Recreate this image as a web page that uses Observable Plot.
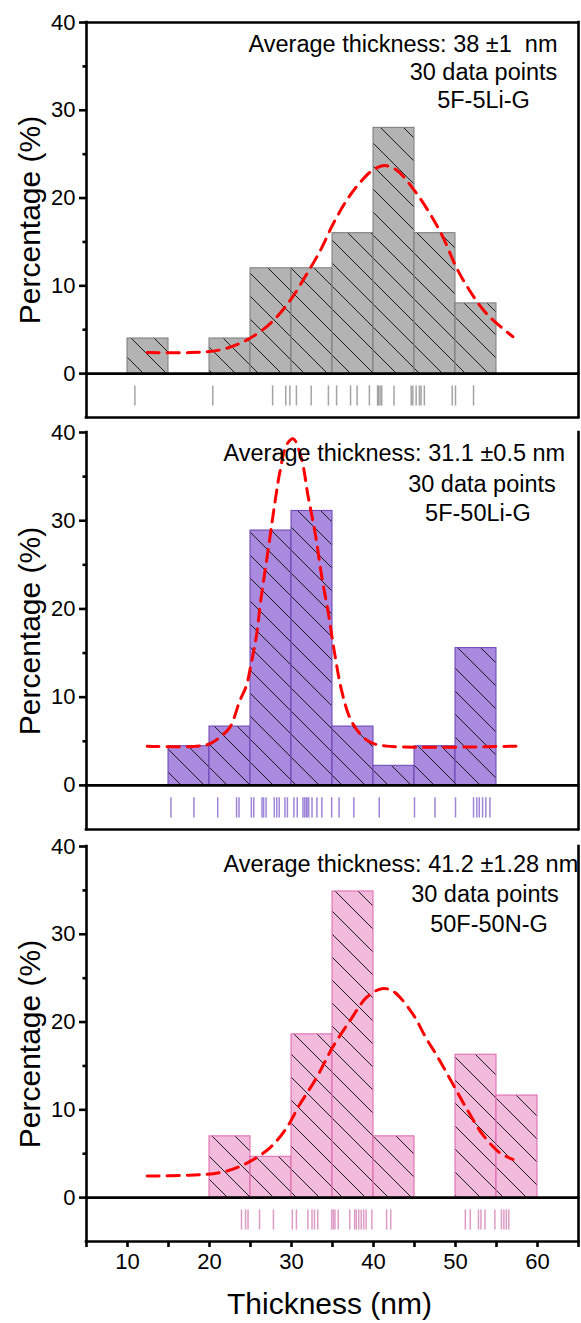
<!DOCTYPE html>
<html>
<head>
<meta charset="utf-8">
<script src="https://cdn.jsdelivr.net/npm/d3@7"></script>
<script src="https://cdn.jsdelivr.net/npm/@observablehq/plot@0.6"></script>
<style>
  body { margin: 0; background: #fff; }
  #chart svg { display: block; }
  #chart text { white-space: pre; }
</style>
</head>
<body>
<div id="chart"></div>
<script>
// Histogram bins (nm): left edges, each 5 nm wide
const binStarts = [10, 15, 20, 25, 30, 35, 40, 45, 50, 55];
const binWidth = 5;

// Percentage per bin
const pct5Li = [4, 0, 4, 12, 12, 16, 28, 16, 8, 0];
const pct50Li = [0, 4.44, 6.67, 28.89, 31.11, 6.67, 2.22, 4.44, 15.56, 0];
const pct50N = [0, 0, 6.98, 4.65, 18.6, 34.88, 6.98, 0, 16.28, 11.63];

// Individual thickness measurements (nm), shown as rug ticks
const rug5Li = [10.9, 20.4, 27.7, 29.3, 29.8, 30.6, 32.4, 34.5, 35.5, 37.2, 38.0, 39.5, 40.5, 40.6, 40.8,
  41.0, 42.5, 44.6, 44.8, 45.2, 45.6, 45.8, 46.2, 49.6, 50.0, 52.2];
const rug50Li = [15.3, 18.1, 21.0, 23.3, 23.6, 25.1, 25.4, 26.4, 26.6, 26.9, 27.9, 28.2, 28.5, 29.2, 29.5,
  30.3, 30.7, 31.4, 31.6, 31.8, 31.9, 32.1, 32.5, 33.1, 33.7, 34.9, 35.8, 37.6, 40.7, 45.0, 47.5, 50.0,
  52.2, 52.6, 52.9, 53.3, 53.7, 54.2];
const rug50N = [23.9, 24.4, 24.7, 26.1, 27.8, 30.1, 30.6, 32.0, 32.5, 32.8, 33.2, 34.9, 35.1, 35.3, 35.7,
  37.1, 37.7, 37.9, 38.2, 38.5, 38.8, 39.1, 39.8, 41.6, 42.1, 51.2, 51.8, 52.8, 53.1, 53.6, 54.8, 55.6,
  55.9, 56.2, 56.5];

// Fitted distribution curves (thickness, percentage)
const fit5LiX = [12.4, 17.6, 21.3, 24.5, 27.4, 29.8, 31.9, 33.5, 35.1, 36.7, 38.2, 39.8, 41.3, 42.8, 44.8, 46.9, 48.5, 50.1, 51.7, 53.8, 57.0];
const fit5LiY = [2.4, 2.4, 2.7, 3.8, 5.7, 8.3, 11.4, 14.0, 17.1, 19.7, 21.6, 23.1, 23.7, 23.2, 21.1, 18.2, 15.5, 12.1, 9.5, 6.8, 4.2];
const fit50LiX = [12.4, 19.7, 21.3, 22.5, 23.7, 24.5, 25.0, 25.4, 25.8, 26.2, 27.2, 28.0, 28.6, 29.4, 30.2, 31.2, 32.0, 32.9, 33.7, 34.5, 35.2, 36.1, 37.1, 38.3, 39.6, 41.6, 57.4];
const fit50LiY = [4.45, 4.6, 5.5, 6.6, 9.6, 11.3, 13.4, 15.3, 17.4, 20.6, 27.0, 32.2, 35.6, 38.6, 39.3, 37.1, 32.9, 28.5, 23.6, 19.5, 15.3, 10.8, 7.7, 5.9, 4.9, 4.45, 4.45];
const fit50NX = [12.4, 17.6, 21.3, 24.5, 27.4, 29.4, 31.0, 33.05, 35.0, 37.1, 39.15, 41.0, 42.4, 44.8, 46.4, 47.9, 49.7, 51.5, 53.3, 55.4, 57.0];
const fit50NY = [2.45, 2.55, 2.85, 3.9, 5.7, 7.95, 10.6, 13.65, 17.1, 20.1, 22.8, 23.8, 23.5, 20.9, 18.2, 15.9, 12.9, 9.9, 7.2, 5.1, 4.35];

// Annotation lines
const labels5Li = ["Average thickness: 38 ±1  nm", "30 data points", "5F-5Li-G"];
const labels50Li = ["Average thickness: 31.1 ±0.5 nm", "30 data points", "5F-50Li-G"];
const labels50N = ["Average thickness: 41.2 ±1.28 nm", "30 data points", "50F-50N-G"];

const xTicks = [5, 10, 15, 20, 25, 30, 35, 40, 45, 50, 55, 60, 65];
const yMajor = [0, 10, 20, 30, 40];
const yMinor = [5, 15, 25, 35];

const FONT = "'Liberation Sans', Arial, Helvetica, sans-serif";

function addHatch(svg, id) {
  const defs = d3.select(svg).insert("defs", ":first-child");
  const p = defs.append("pattern")
    .attr("id", id)
    .attr("patternUnits", "userSpaceOnUse")
    .attr("width", 23)
    .attr("height", 23);
  p.append("path")
    .attr("d", "M-2,-2L25,25M-2,21L2,25M21,-2L25,2")
    .attr("stroke", "#1a1a1a")
    .attr("stroke-width", 1)
    .attr("fill", "none");
}

function panel(cfg) {
  const bins = binStarts.map((x0, i) => ({x0, x1: x0 + binWidth, pct: cfg.pct[i]})).filter(d => d.pct > 0);
  const hatchId = "hatch-" + cfg.key;
  const frame = {stroke: "black", strokeWidth: 2.6, strokeLinecap: "square"};
  const marks = [
    Plot.rect(bins, {x1: "x0", x2: "x1", y1: 0, y2: "pct", fill: cfg.fill, stroke: cfg.edge, strokeWidth: 1}),
    Plot.rect(bins, {x1: "x0", x2: "x1", y1: 0, y2: "pct", fill: `url(#${hatchId})`, inset: 0.5}),
    Plot.line(cfg.fitX, {x: d => d, y: (d, i) => cfg.fitY[i], stroke: "#ff0000", strokeWidth: 3,
      strokeDasharray: "12,8", curve: "catmull-rom"}),
    Plot.ruleX(cfg.rug, {x: d => d, y1: -1.4, y2: -3.7, stroke: cfg.rugColor, strokeWidth: 1.5, strokeOpacity: cfg.rugOpacity}),
    Plot.ruleY([0], frame),
    Plot.ruleY([-5], frame),
    Plot.ruleX([5, 65], frame),
    Plot.axisY({ticks: yMajor, tickSize: 7, tickPadding: 4, fontSize: 22, strokeWidth: 2.6, label: null}),
    Plot.axisY({ticks: yMinor, tickSize: 3.5, tickFormat: () => "", strokeWidth: 2.6, label: null}),
    Plot.text(["Percentage (%)"], {text: d => d, frameAnchor: "left", rotate: -90, dx: -56,
      fontSize: 30, lineAnchor: "middle", textAnchor: "middle"}),
    Plot.text([cfg.labels[0]], {text: d => d, frameAnchor: "top-left", dx: cfg.l1[0], dy: cfg.l1[1],
      textAnchor: "start", lineAnchor: "bottom", fontSize: 23.5}),
    Plot.text([cfg.labels[1]], {text: d => d, frameAnchor: "top-left", dx: cfg.l2[0], dy: cfg.l2[1],
      textAnchor: "middle", lineAnchor: "bottom", fontSize: 23.5}),
    Plot.text([cfg.labels[2]], {text: d => d, frameAnchor: "top-left", dx: cfg.l3[0], dy: cfg.l3[1],
      textAnchor: "middle", lineAnchor: "bottom", fontSize: 23.5})
  ];
  if (cfg.top) marks.push(Plot.ruleY([40], frame));
  if (cfg.xAxis) {
    marks.push(Plot.axisX({ticks: xTicks, tickSize: 6, tickPadding: 6, fontSize: 22, strokeWidth: 2.6, label: null,
      tickFormat: d => (d >= 10 && d <= 60 && d % 10 === 0) ? String(d) : ""}));
    marks.push(Plot.text(["Thickness (nm)"], {text: d => d, frameAnchor: "bottom", dx: -3, dy: 72,
      fontSize: 30, lineAnchor: "bottom", textAnchor: "middle"}));
  }
  const svg = Plot.plot({
    width: 581,
    height: cfg.height,
    marginLeft: 86,
    marginRight: 3,
    marginTop: cfg.mt,
    marginBottom: cfg.mb,
    style: {fontFamily: FONT, fontSize: "22px", background: "white", overflow: "visible", color: "black"},
    x: {domain: [5, 65], label: null, ...(cfg.xAxis ? {} : {axis: null})},
    y: {domain: [-5, 40], label: null},
    marks
  });
  addHatch(svg, hatchId);
  return svg;
}

const root = document.getElementById("chart");
root.appendChild(panel({
  key: "a", pct: pct5Li, rug: rug5Li, fitX: fit5LiX, fitY: fit5LiY, labels: labels5Li,
  fill: "#b3b3b3", edge: "#7a7a7a", rugColor: "#9a9a9a", rugOpacity: 0.9,
  height: 420, mt: 22, mb: 3, top: true,
  l1: [162, 29.7], l2: [397, 57.3], l3: [397, 85.3]
}));
root.appendChild(panel({
  key: "b", pct: pct50Li, rug: rug50Li, fitX: fit50LiX, fitY: fit50LiY, labels: labels50Li,
  fill: "#a98ade", edge: "#6a40b4", rugColor: "#9478d4", rugOpacity: 0.9,
  height: 412, mt: 12, mb: 3,
  l1: [137, 28], l2: [395.5, 59.7], l3: [391.5, 88]
}));
root.appendChild(panel({
  key: "c", pct: pct50N, rug: rug50N, fitX: fit50NX, fitY: fit50NY, labels: labels50N,
  fill: "#f2bbdb", edge: "#e062ac", rugColor: "#d88abb", rugOpacity: 0.85,
  height: 491, mt: 14, mb: 82, xAxis: true,
  l1: [137, 25.7], l2: [398.5, 55.7], l3: [402.5, 85.7]
}));
</script>
</body>
</html>
